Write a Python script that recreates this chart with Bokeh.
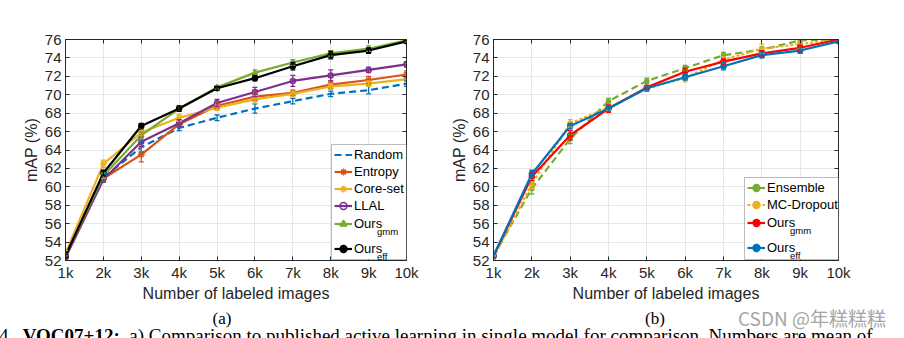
from bokeh.plotting import figure
from bokeh.layouts import row, column
from bokeh.models import (ColumnDataSource, Whisker, TeeHead, FixedTicker, LinearAxis,
                          Legend, LegendItem, Label, Range1d, Div, BoxAnnotation)
from bokeh.embed import file_html
from bokeh.resources import INLINE

# ---------------- data ----------------
x_vals = [1, 2, 3, 4, 5, 6, 7, 8, 9, 10]
x_labels = ["1k", "2k", "3k", "4k", "5k", "6k", "7k", "8k", "9k", "10k"]
y_ticks = [52, 54, 56, 58, 60, 62, 64, 66, 68, 70, 72, 74, 76]

# (a) comparison to published methods
random_map = [52.5, 61.0, 64.3, 66.4, 67.5, 68.5, 69.3, 70.1, 70.5, 71.2]
random_err = [0.2, 0.3, 0.5, 0.3, 0.3, 0.5, 0.3, 0.3, 0.4, 0.3]
entropy_map = [52.4, 60.9, 63.5, 66.8, 68.8, 69.8, 70.2, 71.1, 71.6, 72.2]
entropy_err = [0.2, 0.3, 0.8, 0.3, 0.3, 0.4, 0.3, 0.4, 0.4, 0.4]
coreset_map = [52.8, 62.5, 65.9, 67.5, 68.6, 69.5, 70.1, 70.9, 71.2, 71.7]
coreset_err = [0.3, 0.4, 0.4, 0.4, 0.3, 0.4, 0.3, 0.3, 0.3, 0.3]
llal_map = [52.3, 60.8, 64.9, 66.9, 69.1, 70.3, 71.5, 72.1, 72.7, 73.3]
llal_err = [0.2, 0.3, 0.5, 0.4, 0.4, 0.5, 0.6, 0.6, 0.3, 0.3]
gmm_a_map = [52.5, 61.2, 65.6, 68.5, 70.8, 72.4, 73.5, 74.5, 75.0, 75.9]
gmm_a_err = [0.2, 0.3, 0.4, 0.3, 0.2, 0.3, 0.3, 0.3, 0.3, 0.2]
eff_a_map = [52.5, 61.5, 66.6, 68.5, 70.7, 71.8, 73.1, 74.3, 74.8, 75.8]
eff_a_err = [0.2, 0.3, 0.3, 0.3, 0.2, 0.3, 0.4, 0.4, 0.3, 0.2]

# (b) comparison to multiple-model methods
ensemble_map = [52.5, 59.8, 65.2, 69.3, 71.5, 72.9, 74.3, 74.9, 75.9, 76.0]
ensemble_err = [0.2, 0.6, 0.5, 0.3, 0.3, 0.3, 0.3, 0.3, 0.3, 0.2]
mcdrop_map = [52.3, 60.3, 66.9, 68.6, 70.7, 71.8, 73.8, 75.0, 75.5, 76.0]
mcdrop_err = [0.2, 0.5, 0.4, 0.3, 0.3, 0.4, 0.3, 0.5, 0.5, 0.2]
gmm_b_map = [52.5, 61.1, 65.6, 68.5, 70.8, 72.5, 73.6, 74.5, 75.1, 76.0]
gmm_b_err = [0.2, 0.4, 0.5, 0.4, 0.2, 0.4, 0.3, 0.3, 0.3, 0.2]
eff_b_map = [52.5, 61.4, 66.6, 68.5, 70.7, 71.9, 73.1, 74.3, 74.8, 75.8]
eff_b_err = [0.2, 0.4, 0.3, 0.3, 0.3, 0.3, 0.4, 0.3, 0.3, 0.2]

AX = "#262626"
SANS = "Liberation Sans"
SERIF = "Liberation Serif"


def make_fig(width, left, right):
    p = figure(width=width, height=304, output_backend="svg", toolbar_location=None,
               x_range=Range1d(1, 10), y_range=Range1d(52, 76),
               min_border_left=left, min_border_right=right,
               min_border_top=39, min_border_bottom=44)
    p.outline_line_color = AX
    p.outline_line_width = 1
    p.background_fill_color = "white"
    p.border_fill_color = "white"
    for ax in (p.xaxis[0], p.yaxis[0]):
        ax.axis_line_color = AX
        ax.major_tick_line_color = AX
        ax.major_tick_in = 4
        ax.major_tick_out = 0
        ax.minor_tick_line_color = None
        ax.major_label_text_color = AX
        ax.major_label_text_font = SANS
        ax.major_label_text_font_size = "15px"
        ax.axis_label_text_font = SANS
        ax.axis_label_text_font_size = "16px"
        ax.axis_label_text_font_style = "normal"
        ax.axis_label_text_color = AX
    p.xaxis.ticker = FixedTicker(ticks=x_vals)
    p.xaxis.major_label_overrides = {v: l for v, l in zip(x_vals, x_labels)}
    p.xaxis.major_label_standoff = 3
    p.xaxis.axis_label = "Number of labeled images"
    p.xaxis.axis_label_standoff = 1
    p.yaxis.ticker = FixedTicker(ticks=y_ticks)
    p.yaxis.major_label_standoff = 4
    p.yaxis.axis_label = "mAP (%)"
    p.yaxis.axis_label_standoff = 2
    # box ticks on top/right
    top = LinearAxis(ticker=FixedTicker(ticks=x_vals), major_label_text_font_size="0px",
                     major_tick_in=4, major_tick_out=0, minor_tick_line_color=None,
                     axis_line_color=AX, major_tick_line_color=AX, major_label_standoff=0)
    rgt = LinearAxis(ticker=FixedTicker(ticks=y_ticks), major_label_text_font_size="0px",
                     major_tick_in=4, major_tick_out=0, minor_tick_line_color=None,
                     axis_line_color=AX, major_tick_line_color=AX, major_label_standoff=0)
    p.add_layout(top, "above")
    p.add_layout(rgt, "right")
    p.xgrid.grid_line_color = "#e6e6e6"
    p.ygrid.grid_line_color = "#e6e6e6"
    p.xgrid.ticker = FixedTicker(ticks=x_vals)
    p.ygrid.ticker = FixedTicker(ticks=y_ticks)
    return p


def add_series(p, ys, errs, color, dash, marker, msize, fill=True):
    src = ColumnDataSource(dict(x=x_vals, y=ys,
                                lo=[a - b for a, b in zip(ys, errs)],
                                hi=[a + b for a, b in zip(ys, errs)]))
    w = Whisker(source=src, base="x", upper="hi", lower="lo", line_color=color, line_width=1.3,
                upper_head=TeeHead(size=5, line_color=color, line_width=1.3),
                lower_head=TeeHead(size=5, line_color=color, line_width=1.3), level="glyph")
    p.add_layout(w)
    ln = p.line("x", "y", source=src, line_color=color, line_width=2.2, line_dash=dash)
    rs = []
    if marker is not None:
        sc = p.scatter("x", "y", source=src, marker=marker, size=msize, line_color=color,
                       line_width=1.5, fill_color=color if fill else None)
        rs.append(sc)
    return [ln] + rs


# ---------------- (a) ----------------
p1 = make_fig(440, 65, 34)
ra = [
    ("Random", add_series(p1, random_map, random_err, "#0072BD", "7 4", None, 0)),
    ("Entropy", add_series(p1, entropy_map, entropy_err, "#D95319", "solid", "asterisk", 7)),
    ("Core-set", add_series(p1, coreset_map, coreset_err, "#EDB120", "solid", "asterisk", 7)),
    ("LLAL", add_series(p1, llal_map, llal_err, "#7E2F8E", "solid", "circle", 5, fill=False)),
    ("Ours", add_series(p1, gmm_a_map, gmm_a_err, "#77AC30", "solid", "triangle", 5)),
    ("Ours", add_series(p1, eff_a_map, eff_a_err, "black", "solid", "circle", 5)),
]

# ---------------- (b) ----------------
p2 = make_fig(464, 53, 66)
rb = [
    ("Ensemble", add_series(p2, ensemble_map, ensemble_err, "#77AC30", "7 4", "circle", 4)),
    ("MC-Dropout", add_series(p2, mcdrop_map, mcdrop_err, "#EDB120", "3 2", "circle", 4)),
    ("Ours", add_series(p2, gmm_b_map, gmm_b_err, "#FF0000", "solid", "circle", 5)),
    ("Ours", add_series(p2, eff_b_map, eff_b_err, "#0072BD", "solid", "circle", 5)),
]

GW, STAND, LH = 18, 2, 17


def add_legend(p, plain, subbed, box, sub_texts, sub_gap):
    """box = (left, right, bottom, top) in px from frame's bottom-left.
    plain rows are packed under the top edge, subscripted rows get extra room."""
    bl, br, bb, bt = box
    p.add_layout(BoxAnnotation(left=bl, right=br, bottom=bb, top=bt,
                               left_units="screen", right_units="screen",
                               bottom_units="screen", top_units="screen",
                               fill_color="white", fill_alpha=1, line_color=AX,
                               line_width=1, level="annotation"))
    common = dict(margin=0, padding=0, glyph_width=GW, glyph_height=LH, label_height=LH,
                  label_standoff=STAND, label_text_font=SANS, label_text_font_size="13px",
                  label_text_color="black", border_line_color=None, background_fill_alpha=0)
    gx = bl + 3
    top_plain = bt - 2
    h1 = len(plain) * LH
    l1 = Legend(items=[LegendItem(label=l, renderers=r) for l, r in plain],
                location=(gx, top_plain - h1), spacing=0, **common)
    p.add_layout(l1)
    gap_sub = 8
    top_sub = top_plain - h1 - 1
    h2 = len(subbed) * LH + (len(subbed) - 1) * gap_sub
    l2 = Legend(items=[LegendItem(label=l, renderers=r) for l, r in subbed],
                location=(gx, top_sub - h2), spacing=gap_sub, **common)
    p.add_layout(l2)
    lx = gx + GW + STAND
    for i, text in enumerate(sub_texts):
        cy = top_sub - i * (LH + gap_sub) - LH / 2
        p.add_layout(Label(x=lx + sub_gap, y=cy - 7, x_units="screen", y_units="screen",
                           text=text, text_font=SANS, text_font_size="9.5px",
                           text_color="black", text_baseline="alphabetic", level="overlay"))


add_legend(p1, ra[:4], ra[4:], (266, 341, 1, 116), ["gmm", "eff"], 22.5)
add_legend(p2, rb[:2], rb[2:], (251, 345, 1, 83), ["gmm", "eff"], 22.5)

caption_html = """
<div style="position:relative;width:904px;height:34px;overflow:hidden;background:white;">
<span style="position:absolute;left:222px;top:5px;transform:translateX(-50%);
 font-family:'Liberation Serif';font-size:17px;line-height:19px;color:black;">(a)</span>
<span style="position:absolute;left:655px;top:5px;transform:translateX(-50%);
 font-family:'Liberation Serif';font-size:17px;line-height:19px;color:black;">(b)</span>
<span style="position:absolute;left:738px;top:3px;white-space:nowrap;
 font-family:'Noto Sans CJK SC';font-size:19px;line-height:21px;color:#a6a6a6;">CSDN @年糕糕糕</span>
<span style="position:absolute;left:-1px;top:22px;white-space:nowrap;
 font-family:'Liberation Serif';font-size:19px;line-height:19px;color:black;">4.&nbsp;
 <b>VOC07+12:</b>&nbsp; a) Comparison to published active learning in single model for
 comparison. Numbers are mean of</span>
</div>
"""
div = Div(text=caption_html, width=904, height=34, margin=(0, 0, 0, 0))

layout = column(row(p1, p2), div)
open("out.html", "w").write(file_html(layout, INLINE))
